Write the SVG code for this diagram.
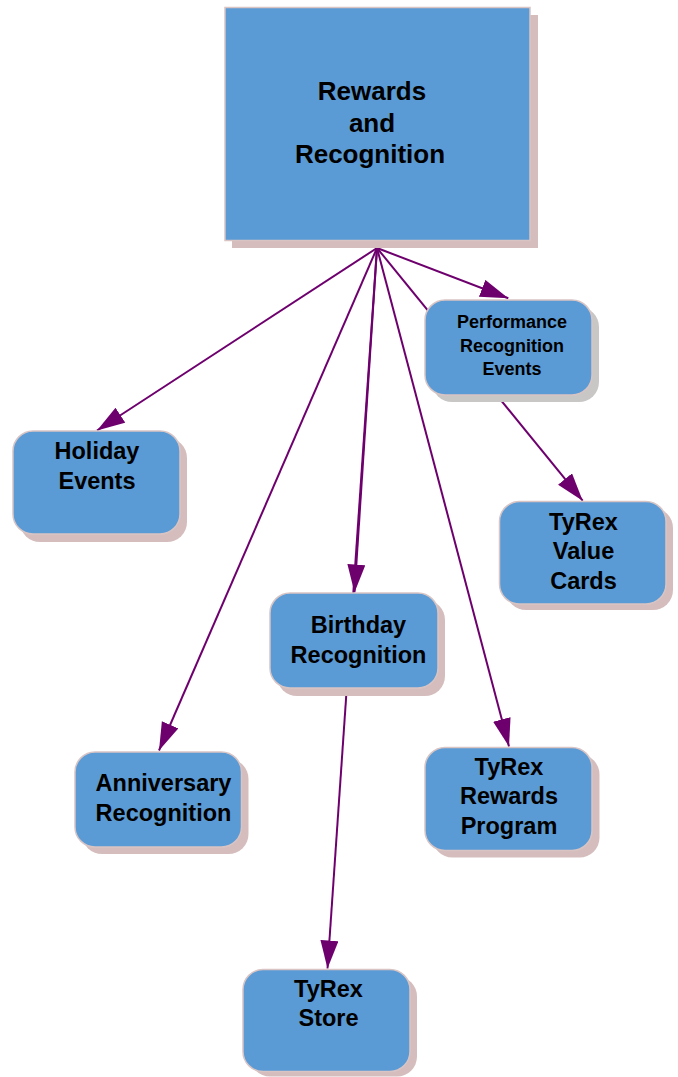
<svg xmlns="http://www.w3.org/2000/svg" width="678" height="1077" viewBox="0 0 678 1077">
<style>
.sh{fill:#D5BDBD}
.shg{fill:#C9C6C6}
.bx{fill:#5B9BD5;stroke:#D9C4C4;stroke-width:1.5}
.t{font-family:"Liberation Sans",Arial,sans-serif;font-weight:bold;fill:#000;text-anchor:middle}
.c{stroke:#6E006E;stroke-width:2;fill:none}
</style>
<defs>
<marker id="ah" markerUnits="userSpaceOnUse" markerWidth="30" markerHeight="20" refX="28" refY="9" orient="auto">
<path d="M0,0 L28,9 L0,18 Z" fill="#6E006E"/>
</marker>
</defs>
<rect width="678" height="1077" fill="#fff"/>
<g id="connectors">
<line class="c" x1="377" y1="248" x2="97" y2="430.5" marker-end="url(#ah)"/>
<line class="c" x1="377" y1="248" x2="159" y2="750.5" marker-end="url(#ah)"/>
<line class="c" x1="377" y1="248" x2="354.5" y2="592.5" marker-end="url(#ah)"/>
<line class="c" x1="377" y1="248" x2="327.5" y2="968.5" marker-end="url(#ah)"/>
<line class="c" x1="377" y1="248" x2="509" y2="746.5" marker-end="url(#ah)"/>
<line class="c" x1="377" y1="248" x2="582.7" y2="500.7" marker-end="url(#ah)"/>
<line class="c" x1="377" y1="248" x2="508.3" y2="298.3" marker-end="url(#ah)"/>
</g>
<g id="main">
<rect class="sh" x="232" y="15" width="306" height="233"/>
<rect class="bx" x="225" y="7.5" width="305" height="233"/>
<text class="t" font-size="26" x="372" y="100">Rewards</text>
<text class="t" font-size="26" x="372" y="132">and</text>
<text class="t" font-size="26" x="370" y="163">Recognition</text>
</g>
<g id="performance">
<rect class="shg" x="432" y="307" width="167" height="95" rx="20"/>
<rect class="bx" x="425" y="300" width="167" height="95" rx="20"/>
<text class="t" font-size="18" x="512" y="327.5">Performance</text>
<text class="t" font-size="18" x="512" y="351.5">Recognition</text>
<text class="t" font-size="18" x="512" y="375">Events</text>
</g>
<g id="holiday">
<rect class="sh" x="20" y="438" width="167" height="104" rx="20"/>
<rect class="bx" x="13" y="431" width="167" height="103" rx="20"/>
<text class="t" font-size="23.5" x="97" y="458.5">Holiday</text>
<text class="t" font-size="23.5" x="97" y="488.5">Events</text>
</g>
<g id="valuecards">
<rect class="sh" x="506" y="508" width="167" height="102" rx="20"/>
<rect class="bx" x="499.5" y="501.5" width="166.5" height="102.5" rx="20"/>
<text class="t" font-size="23.5" x="583.5" y="529.5">TyRex</text>
<text class="t" font-size="23.5" x="583.5" y="558.5">Value</text>
<text class="t" font-size="23.5" x="583.5" y="588.5">Cards</text>
</g>
<g id="birthday">
<rect class="sh" x="277" y="600" width="168" height="96" rx="20"/>
<rect class="bx" x="270" y="593" width="168" height="95" rx="20"/>
<text class="t" font-size="23.5" x="358.5" y="633">Birthday</text>
<text class="t" font-size="23.5" x="358.5" y="663">Recognition</text>
</g>
<g id="anniversary">
<rect class="sh" x="82" y="759" width="166.5" height="95" rx="20"/>
<rect class="bx" x="75" y="752" width="166.5" height="95" rx="20"/>
<text class="t" font-size="23.5" x="163.5" y="791">Anniversary</text>
<text class="t" font-size="23.5" x="163.5" y="821">Recognition</text>
</g>
<g id="rewardsprogram">
<rect class="sh" x="432.5" y="754.5" width="167" height="103" rx="20"/>
<rect class="bx" x="425" y="747.5" width="167" height="103" rx="20"/>
<text class="t" font-size="23.5" x="509" y="775">TyRex</text>
<text class="t" font-size="23.5" x="509" y="804">Rewards</text>
<text class="t" font-size="23.5" x="509" y="833.5">Program</text>
</g>
<g id="store">
<rect class="sh" x="250" y="976.5" width="167" height="100" rx="20"/>
<rect class="bx" x="243" y="969.5" width="167" height="102" rx="20"/>
<text class="t" font-size="23.5" x="328.5" y="997">TyRex</text>
<text class="t" font-size="23.5" x="328.5" y="1026">Store</text>
</g>
</svg>
